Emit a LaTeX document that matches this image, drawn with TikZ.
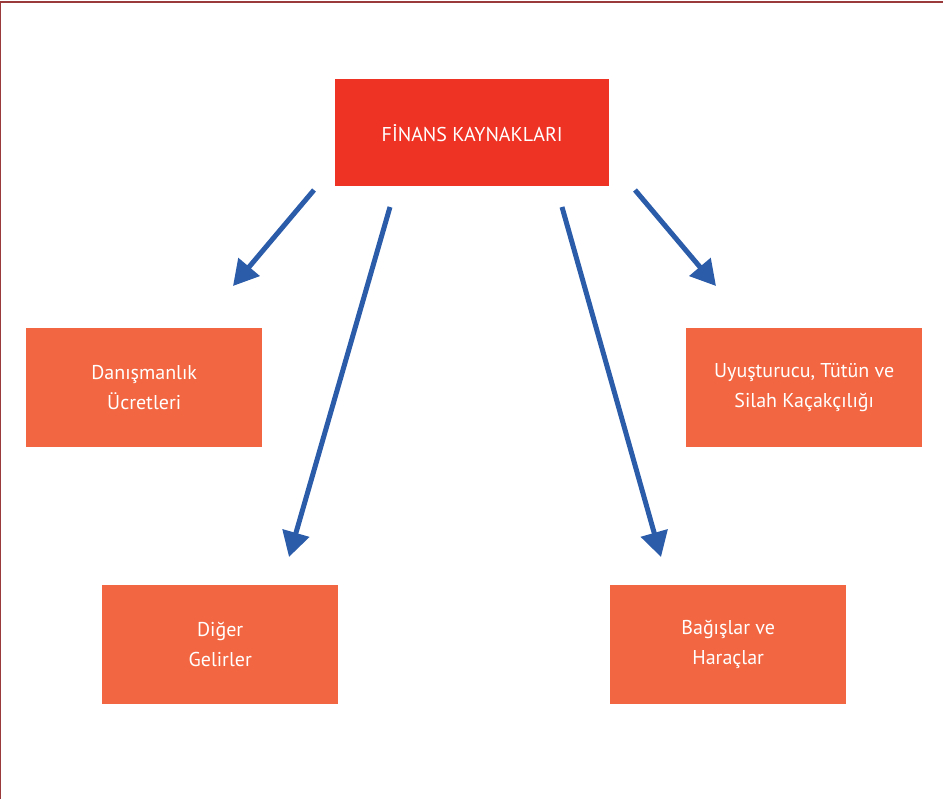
\documentclass[tikz,border=0pt]{standalone}
\usepackage{fontspec}
\setmainfont{PT Sans}
\usetikzlibrary{arrows.meta}
\definecolor{topred}{HTML}{EE3224}
\definecolor{boxorange}{HTML}{F26641}
\definecolor{arrowblue}{HTML}{2A5CAA}
\definecolor{framered}{HTML}{9B3A3A}
\tikzset{
  topbox/.style={fill=topred, text=white, minimum width=274pt, minimum height=107pt, inner sep=0pt, font=\fontsize{20}{30}\selectfont, anchor=north west},
  subbox/.style={fill=boxorange, text=white, minimum width=236pt, minimum height=119pt, inner sep=0pt, align=center, font=\fontsize{20}{30}\selectfont, anchor=north west},
  flowarrow/.style={draw=arrowblue, line width=5pt, -{Triangle[length=25pt,width=27pt]}},
}
\begin{document}
\begin{tikzpicture}[x=1pt,y=-1pt]
\useasboundingbox (0,0) rectangle (943,799);
\draw[framered, line width=1.2pt] (0.6,799) -- (0.6,2) -- (943,2);
\node[topbox] (top) at (335,79) {FİNANS KAYNAKLARI};
\node[subbox] (dan) at (26,328) {Danışmanlık\\Ücretleri};
\node[subbox] (uyu) at (686,328) {Uyuşturucu, Tütün ve\\Silah Kaçakçılığı};
\node[subbox] (dig) at (102,585) {Diğer\\Gelirler};
\node[subbox] (bag) at (610,585) {Bağışlar ve\\Haraçlar};
\coordinate (s1) at (314,190); \coordinate (e1) at (233,286);
\coordinate (s2) at (390,207); \coordinate (e2) at (289,557);
\coordinate (s3) at (562,207); \coordinate (e3) at (661,557);
\coordinate (s4) at (635,190); \coordinate (e4) at (716,286);
\draw[flowarrow] (s1) -- (e1);
\draw[flowarrow] (s2) -- (e2);
\draw[flowarrow] (s3) -- (e3);
\draw[flowarrow] (s4) -- (e4);
\end{tikzpicture}
\end{document}
